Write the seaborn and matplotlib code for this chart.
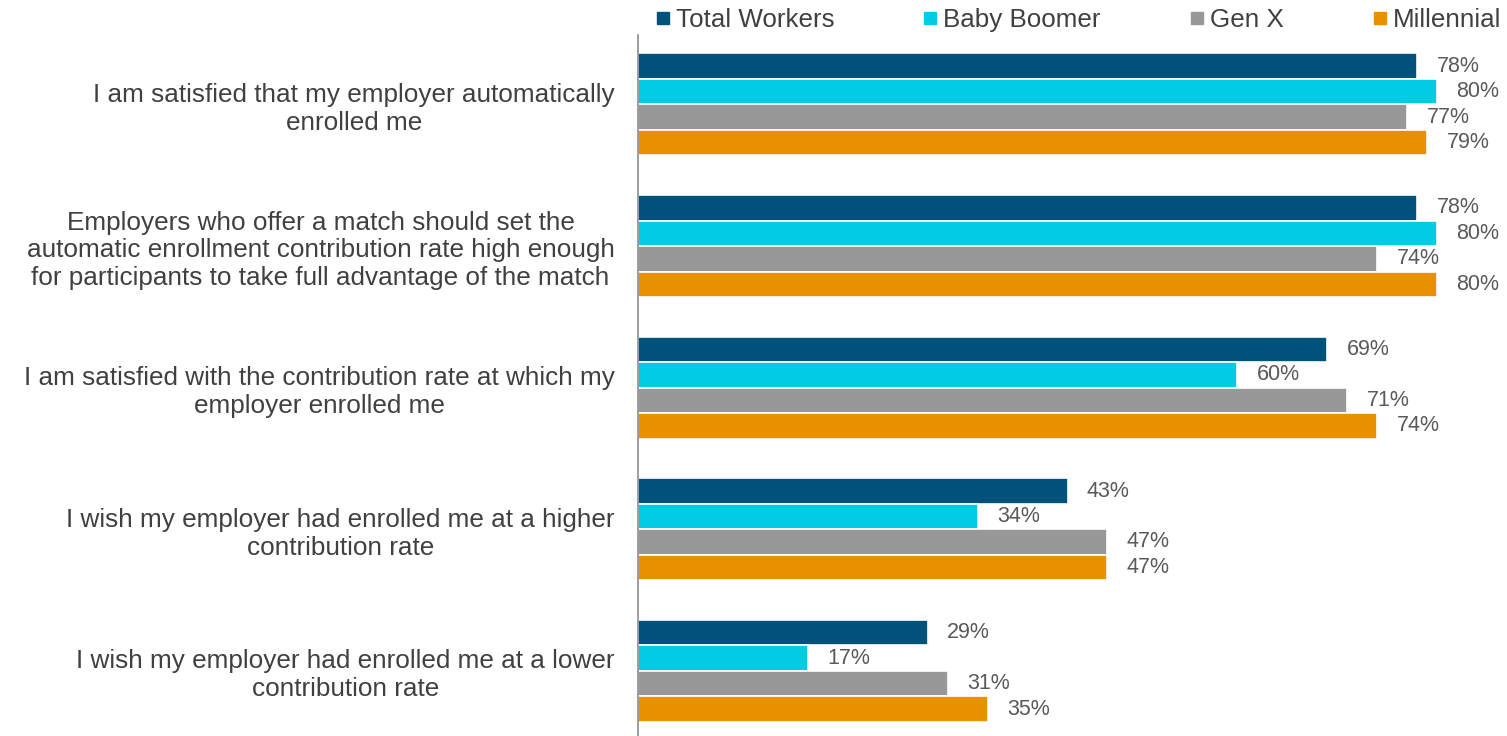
import pandas as pd
import matplotlib.pyplot as plt
import seaborn as sns
from matplotlib.lines import Line2D

# Survey statements (wrapped as in the original slide)
statements = [
    "I am satisfied that my employer automatically\nenrolled me",
    "Employers who offer a match should set the\nautomatic enrollment contribution rate high enough\nfor participants to take full advantage of the match",
    "I am satisfied with the contribution rate at which my\nemployer enrolled me",
    "I wish my employer had enrolled me at a higher\ncontribution rate",
    "I wish my employer had enrolled me at a lower\ncontribution rate",
]
groups = ["Total Workers", "Baby Boomer", "Gen X", "Millennial"]
total_workers = [78, 78, 69, 43, 29]
baby_boomer = [80, 80, 60, 34, 17]
gen_x = [77, 74, 71, 47, 31]
millennial = [79, 80, 74, 47, 35]

colors = ["#00527A", "#00CCE3", "#989898", "#E89000"]

df = pd.DataFrame({
    "Statement": statements * 4,
    "Group": [g for g in groups for _ in statements],
    "Pct": total_workers + baby_boomer + gen_x + millennial,
})

sns.set_style("white")
plt.rcParams["font.family"] = ["Liberation Sans", "DejaVu Sans"]

fig = plt.figure(figsize=(15.07, 7.36), dpi=100)
ax = fig.add_axes([0.4234, 0.0, 0.5766, 0.9524])

sns.barplot(data=df, y="Statement", x="Pct", hue="Group", order=statements,
            hue_order=groups, palette=colors, saturation=1, orient="h",
            width=0.72, edgecolor="white", linewidth=1.2, legend=False, ax=ax)

for cont in ax.containers:
    ax.bar_label(cont, labels=[f"{w.get_width():.0f}%" for w in cont],
                 padding=14, fontsize=15.5, color="#595959")

ax.set_xlim(0, 87)
ax.set_ylim(4.46, -0.49)
ax.set_xlabel("")
ax.set_ylabel("")
ax.set_xticks([])
ax.tick_params(axis="y", length=0, pad=17)
for lab in ax.get_yticklabels():
    lab.set_fontsize(18.8)
    lab.set_color("#404040")
    lab.set_multialignment("center")
    lab.set_linespacing(1.2)

for side in ["top", "right", "bottom"]:
    ax.spines[side].set_visible(False)
ax.spines["left"].set_color("#8c8c8c")
ax.spines["left"].set_linewidth(1.2)

handles = [Line2D([], [], marker="s", linestyle="", markersize=8.5,
                  markerfacecolor=c, markeredgecolor=c) for c in colors]
fig.legend(handles, groups, ncol=4, loc="center left",
           bbox_to_anchor=(0.4346, 0.9728), frameon=False, fontsize=18.7,
           labelcolor="#404040", handlelength=0.6, handletextpad=0.2,
           columnspacing=3.4, borderaxespad=0, borderpad=0)

fig.savefig("out.png", dpi=100)
